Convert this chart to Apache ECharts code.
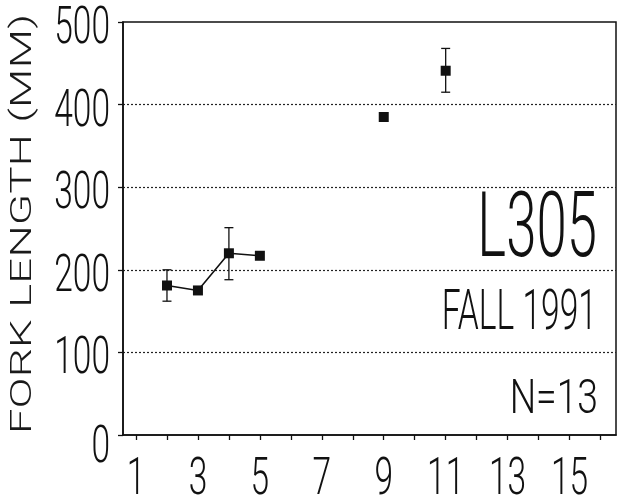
<!DOCTYPE html>
<html>
<head>
<meta charset="utf-8">
<script src="https://cdn.jsdelivr.net/npm/echarts@6/dist/echarts.min.js"></script>
<style>
  html, body { margin: 0; padding: 0; background: #fff; }
  #chart { width: 619px; height: 501px; }
</style>
</head>
<body>
<div id="chart"></div>
<script>
// Mean fork length (mm) by age, L305 sample, fall 1991
const ages       = [2, 3, 4, 5, 9, 11];
const meanLength = [181, 175, 220, 217, 385, 441];
// spread around the mean (null where no bar is drawn)
const errLow  = [162, null, 188, null, null, 415];
const errHigh = [200, null, 251, null, null, 468];
// the consecutive young ages are joined by a line
const joined  = [true, true, true, true, false, false];

const yTicks      = [0, 100, 200, 300, 400, 500];
const xTickValues = [1, 2, 3, 4, 5, 6, 7, 8, 9, 10, 11, 12, 13, 14, 15, 16];
const xLabels     = [1, 3, 5, 7, 9, 11, 13, 15];

const titleText  = 'FORK LENGTH (MM)';
const siteText   = 'L305';
const seasonText = 'FALL 1991';
const countText  = 'N=13';

const X_MIN = 0.58, X_MAX = 16.5;
const INK = '#111';
const FACE = "Roboto, 'Liberation Sans', sans-serif";

const linePts = [], loosePts = [], errPts = [];
ages.forEach((a, i) => {
  (joined[i] ? linePts : loosePts).push([a, meanLength[i]]);
  if (errLow[i] != null) errPts.push([a, errLow[i], errHigh[i]]);
});

// Tick labels are set in a tall, condensed face: the glyphs are squeezed
// horizontally around their anchor so the numerals stay narrow.
function tickText(x, y, text, align) {
  return {
    type: 'text', x: x, y: y, scaleX: 0.645, scaleY: 1,
    style: {
      text: String(text), fill: INK,
      font: '300 52px ' + FACE,
      align: align, verticalAlign: 'middle',
      textAlign: align, textVerticalAlign: 'middle'
    }
  };
}

const chart = echarts.init(document.getElementById('chart'), null, { renderer: 'canvas' });

chart.setOption({
  animation: false,
  backgroundColor: '#fff',
  grid: {
    left: 123, right: 3, top: 22, bottom: 66,
    show: true, borderColor: INK, borderWidth: 1.5, backgroundColor: 'transparent'
  },
  xAxis: {
    type: 'value',
    min: X_MIN, max: X_MAX,
    axisLine: { show: true, onZero: false, lineStyle: { color: INK, width: 1.6 } },
    axisTick: { show: true, customValues: xTickValues, length: 5, lineStyle: { color: INK, width: 1.3 } },
    axisLabel: { show: false },
    splitLine: { show: false }
  },
  yAxis: {
    type: 'value',
    min: yTicks[0], max: yTicks[yTicks.length - 1], interval: 100,
    axisLine: { show: true, lineStyle: { color: INK, width: 1.6 } },
    axisTick: { show: true, length: 5, lineStyle: { color: INK, width: 1.3 } },
    axisLabel: { show: false },
    splitLine: {
      show: true, showMinLine: false, showMaxLine: false,
      lineStyle: { color: '#222', type: [2, 2], width: 1.2 }
    }
  },
  graphic: [
    {
      type: 'text', x: 24, y: 224, rotation: Math.PI / 2,
      scaleX: 1.39, scaleY: 0.9,
      style: {
        text: titleText, fill: '#1a1a1a',
        font: '300 33px ' + FACE,
        textAlign: 'center', textVerticalAlign: 'middle'
      }
    },
    {
      type: 'text', x: 597, y: 233, scaleX: 0.6,
      style: { text: siteText, fill: INK, font: '300 91px ' + FACE, textAlign: 'right', textVerticalAlign: 'middle' }
    },
    {
      type: 'text', x: 597, y: 315, scaleX: 0.6,
      style: { text: seasonText, fill: INK, font: '300 56px ' + FACE, textAlign: 'right', textVerticalAlign: 'middle' }
    },
    {
      type: 'text', x: 598, y: 401, scaleX: 0.76,
      style: { text: countText, fill: INK, font: '300 49px ' + FACE, textAlign: 'right', textVerticalAlign: 'middle' }
    }
  ],
  series: [
    {
      // y tick labels, placed left of the value axis; the zero label sits
      // a little lower, clear of the horizontal axis
      type: 'custom',
      name: 'yLabels',
      data: yTicks.map(v => [X_MIN, v]),
      clip: false, silent: true,
      renderItem(params, api) {
        const v = api.value(1);
        const p = api.coord([api.value(0), v]);
        const drop = v === yTicks[0] ? 14 : 8;
        return tickText(params.coordSys.x - 13, p[1] + drop, v, 'right');
      }
    },
    {
      // x tick labels under the odd ticks
      type: 'custom',
      name: 'xLabels',
      data: xLabels.map(v => [v, 0]),
      clip: false, silent: true,
      renderItem(params, api) {
        const p = api.coord([api.value(0), 0]);
        return tickText(p[0], params.coordSys.y + params.coordSys.height + 46, api.value(0), 'center');
      }
    },
    {
      type: 'custom',
      name: 'spread',
      data: errPts,
      z: 3,
      renderItem(params, api) {
        const x = api.value(0);
        const lo = api.coord([x, api.value(1)]);
        const hi = api.coord([x, api.value(2)]);
        const cap = 4.5;
        const st = { stroke: INK, lineWidth: 1.3 };
        return {
          type: 'group',
          children: [
            { type: 'line', shape: { x1: lo[0], y1: lo[1], x2: hi[0], y2: hi[1] }, style: st },
            { type: 'line', shape: { x1: lo[0] - cap, y1: lo[1], x2: lo[0] + cap, y2: lo[1] }, style: st },
            { type: 'line', shape: { x1: hi[0] - cap, y1: hi[1], x2: hi[0] + cap, y2: hi[1] }, style: st }
          ]
        };
      }
    },
    {
      type: 'line',
      name: 'joined',
      data: linePts,
      z: 4,
      symbol: 'rect', symbolSize: 10,
      lineStyle: { color: INK, width: 1.6 },
      itemStyle: { color: INK, opacity: 1 }
    },
    {
      type: 'scatter',
      name: 'loose',
      data: loosePts,
      z: 4,
      symbol: 'rect', symbolSize: 10,
      itemStyle: { color: INK, opacity: 1 }
    }
  ]
});
</script>
</body>
</html>
